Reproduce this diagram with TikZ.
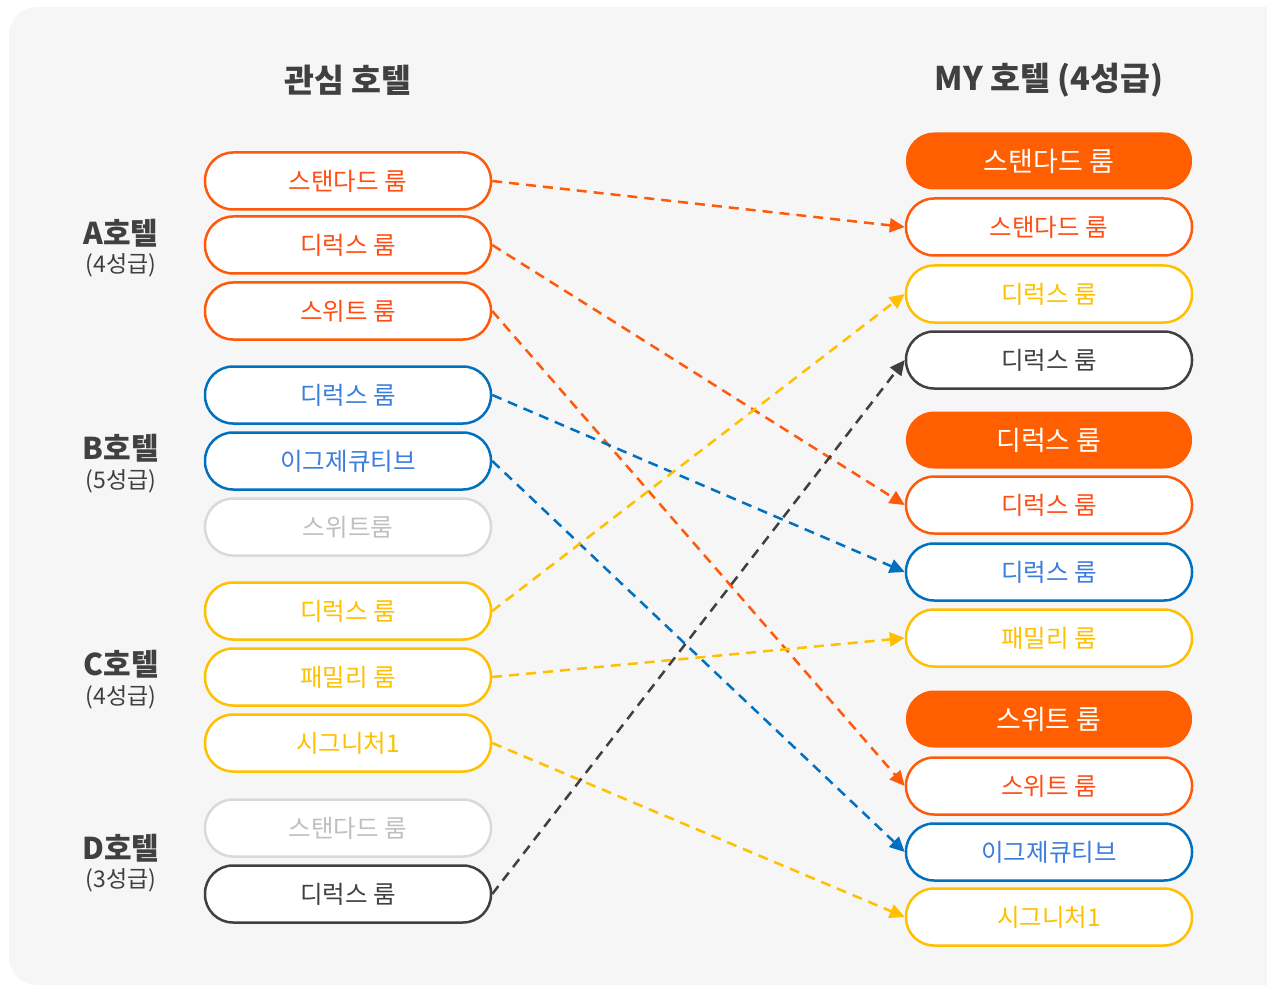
\documentclass[tikz,border=0pt]{standalone}
\usepackage{fontspec}
\setmainfont{Noto Sans CJK KR}
\usetikzlibrary{arrows.meta}
\definecolor{bgc}{HTML}{F6F6F6}
\definecolor{org}{HTML}{FF5A0A}
\definecolor{orgfill}{HTML}{FF5F00}
\definecolor{orgtxt}{HTML}{FF4D14}
\definecolor{blu}{HTML}{0070C0}
\definecolor{blutxt}{HTML}{3B7DDD}
\definecolor{yel}{HTML}{FFC000}
\definecolor{dark}{HTML}{404040}
\definecolor{gryb}{HTML}{D9D9D9}
\definecolor{gryt}{HTML}{BFBFBF}
\tikzset{
  room/.style={draw, line width=2.5pt, fill=white, rounded corners=28pt, minimum width=286pt, minimum height=57pt, inner sep=0pt, font=\fontsize{24.5}{26}\selectfont},
  orgbox/.style={room, draw=org, text=orgtxt},
  blubox/.style={room, draw=blu, text=blutxt},
  yelbox/.style={room, draw=yel, text=yel},
  darkbox/.style={room, draw=dark, text=dark},
  grybox/.style={room, draw=gryb, text=gryt},
  headbox/.style={room, draw=none, fill=orgfill, text=white, font=\fontsize{27}{29}\selectfont},
  link/.style={line width=2.5pt, dash pattern=on 10pt off 7pt, -{Triangle[length=15pt,width=14pt]}},
  title/.style={text=dark, font=\bfseries\fontsize{32.5}{35}\selectfont},
  hotel/.style={text=dark, font=\bfseries\fontsize{30}{32}\selectfont},
  grade/.style={text=dark, font=\fontsize{23}{25}\selectfont},
}
\begin{document}
\begin{tikzpicture}[x=1pt,y=-1pt]
\useasboundingbox (0,0) rectangle (1267,987);
\fill[white] (0,0) rectangle (1267,987);
\begin{scope}
\clip (0,0) rectangle (1267,987);
\fill[bgc, rounded corners=28pt] (9,7) rectangle (1300,985);
\end{scope}

\node[title] (t1) at (348,80) {관심 호텔};
\node[title] (t2) at (1049,80) {MY 호텔 (4성급)};

\node[hotel] (ha) at (121,233) {A호텔};
\node[grade] (ga) at (121,265) {(4성급)};
\node[hotel] (hb) at (121,448) {B호텔};
\node[grade] (gb) at (121,481) {(5성급)};
\node[hotel] (hc) at (121,664) {C호텔};
\node[grade] (gc) at (121,697) {(4성급)};
\node[hotel] (hd) at (121,848) {D호텔};
\node[grade] (gd) at (121,880) {(3성급)};

\node[orgbox] (a1) at (348,181) {스탠다드 룸};
\node[orgbox] (a2) at (348,245) {디럭스 룸};
\node[orgbox] (a3) at (348,311) {스위트 룸};
\node[blubox] (b1) at (348,395) {디럭스 룸};
\node[blubox] (b2) at (348,461) {이그제큐티브};
\node[grybox] (b3) at (348,527) {스위트룸};
\node[yelbox] (c1) at (348,611) {디럭스 룸};
\node[yelbox] (c2) at (348,677) {패밀리 룸};
\node[yelbox] (c3) at (348,743) {시그니처1};
\node[grybox] (d1) at (348,828) {스탠다드 룸};
\node[darkbox] (d2) at (348,894) {디럭스 룸};

\node[headbox] (h1) at (1049,161) {스탠다드 룸};
\node[orgbox] (r1) at (1049,227) {스탠다드 룸};
\node[yelbox] (r2) at (1049,294) {디럭스 룸};
\node[darkbox] (r3) at (1049,360) {디럭스 룸};
\node[headbox] (h2) at (1049,440) {디럭스 룸};
\node[orgbox] (r4) at (1049,505) {디럭스 룸};
\node[blubox] (r5) at (1049,572) {디럭스 룸};
\node[yelbox] (r6) at (1049,638) {패밀리 룸};
\node[headbox] (h3) at (1049,719) {스위트 룸};
\node[orgbox] (r7) at (1049,786) {스위트 룸};
\node[blubox] (r8) at (1049,852) {이그제큐티브};
\node[yelbox] (r9) at (1049,917) {시그니처1};

\draw[link, org] (a1.east) -- (r1.west);
\draw[link, org] (a2.east) -- (r4.west);
\draw[link, org] (a3.east) -- (r7.west);
\draw[link, blu] (b1.east) -- (r5.west);
\draw[link, blu] (b2.east) -- (r8.west);
\draw[link, yel] (c1.east) -- (r2.west);
\draw[link, yel] (c2.east) -- (r6.west);
\draw[link, yel] (c3.east) -- (r9.west);
\draw[link, dark] (d2.east) -- (r3.west);
\end{tikzpicture}
\end{document}
